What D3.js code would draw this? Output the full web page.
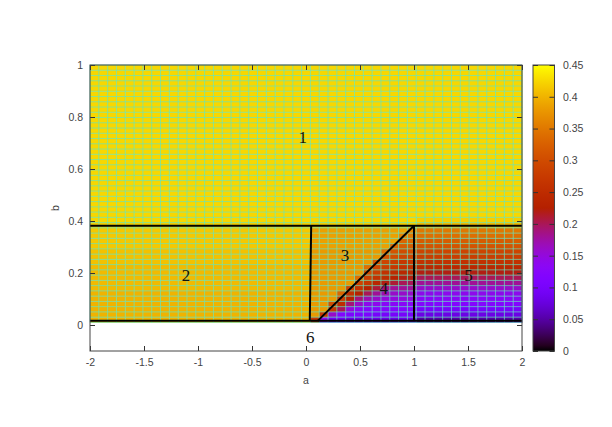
<!DOCTYPE html>
<html><head><meta charset="utf-8">
<script src="https://cdn.jsdelivr.net/npm/d3@7"></script>
<style>body{margin:0;background:#fff}svg{display:block}</style>
</head><body><svg id="chart" width="612" height="427"></svg>
<script>
// ---------- data ----------
const xTicks = [-2, -1.5, -1, -0.5, 0, 0.5, 1, 1.5, 2];
const yTicks = [0, 0.2, 0.4, 0.6, 0.8, 1];
const cbTicks = [0, 0.05, 0.1, 0.15, 0.2, 0.25, 0.3, 0.35, 0.4, 0.45];
const aExtent = [-2, 2];        // heat-map extent in a
const bExtent = [0.01, 1];      // heat-map extent in b
const cbDomain = [0, 0.45];

// symbol -> value of a heat-map cell
const levels = {
  h:0.05, i:0.06, j:0.07, k:0.08, l:0.09, m:0.10, n:0.11, o:0.12, p:0.13, q:0.14,
  r:0.15, s:0.16, t:0.17, u:0.18, v:0.19, w:0.20, x:0.21, y:0.22, z:0.23,
  A:0.24, B:0.25, C:0.26, D:0.27, E:0.28, F:0.29, G:0.30, H:0.31, I:0.32, J:0.33,
  K:0.34, L:0.35, M:0.36, N:0.37, O:0.375, P:0.38, Q:0.385, R:0.39, S:0.395,
  T:0.40, U:0.405, V:0.41, W:0.415, X:0.42, Y:0.425
};

// heat-map cells, top row (b near 1) first; 49 cells per row (a from -2 to 2)
const heatRows = [
  "YYYYYYYYYYYYYYYYYYYYYYYYY"+"YYYYYYYYYYYY"+"YYYYYYYYYYYY",
  "YYYYYYYYYYYYYYYYYYYYYYYYY"+"YYYYYYYYYYYY"+"YYYYYYYYYYYY",
  "YYYYYYYYYYYYYYYYYYYYYYYYY"+"YYYYYYYYYYYY"+"YYYYYYYYYYYY",
  "YYYYYYYYYYYYYYYYYYYYYYYYY"+"YYYYYYYYYYYY"+"YYYYYYYYYYYY",
  "YYYYYYYYYYYYYYYYYYYYYYYYY"+"YYYYYYYYYYYY"+"YYYYYYYYYYYY",
  "YYYYYYYYYYYYYYYYYYYYYYYYY"+"YYYYYYYYYYYY"+"YYYYYYYYYYYY",
  "YYYYYYYYYYYYYYYYYYYYYYYYY"+"YYYYYYYYYYYY"+"YYYYYYYYYYYY",
  "YYYYYYYYYYYYYYYYYYYYYYYYY"+"YYYYYYYYYYYY"+"YYYYYYYYYYYY",
  "YYYYYYYYYYYYYYYYYYYYYYYYY"+"YYYYYYYYYYYY"+"YYYYYYYYYYYY",
  "YYYYYYYYYYYYYYYYYYYYYYYYY"+"YYYYYYYYYYYY"+"YYYYYYYYYYYY",
  "YYYYYYYYYYYYYYYYYYYYYYYYY"+"YYYYYYYYYYYY"+"YYYYYYYYYYYY",
  "YYYYYYYYYYYYYYYYYYYYYYYYY"+"YYYYYYYYYYYY"+"YYYYYYYYYYYY",
  "YYYYYYYYYYYYYYYYYYYYYYYYY"+"YYYYYYYYYYYY"+"YYYYYYYYYYYY",
  "YYYYYYYYYYYYYYYYYYYYYYYYY"+"YYYYYYYYYYYY"+"YYYYYYYYYYYY",
  "YYYYYYYYYYYYYYYYYYYYYYYYY"+"YYYYYYYYYYYY"+"YYYYYYYYYYYY",
  "YYYYYYYYYYYYYYYYYYYYYYYYY"+"YYYYYYYYYYYY"+"YYYYYYYYYYYY",
  "YYYYYYYYYYYYYYYYYYYYYYYYY"+"YYYYYYYYYYYY"+"YYYYYYYYYYYY",
  "YYYYYYYYYYYYYYYYYYYYYYYYY"+"YYYYYYYYYYYY"+"YYYYYYYYYYYY",
  "YYYYYYYYYYYYYYYYYYYYYYYYY"+"YYYYYYYYYYYY"+"YYYYYYYYYYYY",
  "YYYYYYYYYYYYYYYYYYYYYYYYY"+"YYYYYYYYYYYY"+"YYYYYYYYYYYY",
  "YYYYYYYYYYYYYYYYYYYYYYYYY"+"YYYYYYYYYYYY"+"YYYYYYYYYYYY",
  "YYYYYYYYYYYYYYYYYYYYYYYYY"+"YYYYYYYYYYYY"+"YYYYYYYYYYYY",
  "YYYYYYYYYYYYYYYYYYYYYYYYY"+"YYYYYYYYYYYY"+"YYYYYYYYYYYY",
  "YYYYYYYYYYYYYYYYYYYYYYYYY"+"YYYYYYYYYYYY"+"YYYYYYYYYYYY",
  "YYYYYYYYYYYYYYYYYYYYYYYYY"+"YYYYYYYYYYYY"+"YYYYYYYYYYYY",
  "YYYYYYYYYYYYYYYYYYYYYYYYY"+"YYYYYYYYYYYY"+"YYYYYYYYYYYY",
  "YYYYYYYYYYYYYYYYYYYYYYYYY"+"YYYYYYYYYYYY"+"YYYYYYYYYYYY",
  "YYYYYYYYYYYYYYYYYYYYYYYYY"+"YYYYYYYYYYYY"+"YYYYYYYYYYYY",
  "YYYYYYYYYYYYYYYYYYYYYYYYY"+"YYYYYYYYYYYY"+"YYYYYYYYYYYY",
  "YYYYYYYYYYYYYYYYYYYYYYYYY"+"YYYYYYYYYYYY"+"XXXXXXXXXXXX",
  "XXXXXXXXXXXXXXXXXXXXXXXXX"+"XXXXXXXXXXXX"+"UUUUUUUUUUUU",
  "WWWWWWWWWWWWWWWWWWWWWWWWW"+"QQQQQQQQQQQM"+"LLLLLLLLLLLL",
  "WWWWWWWWWWWWWWWWWWWWWWWWW"+"QQQQQQQQQQML"+"KKKKKKKKKKKK",
  "WWWWWWWWWWWWWWWWWWWWWWWWW"+"QQQQQQQQQQJJ"+"IIIIIIIIIIII",
  "WWWWWWWWWWWWWWWWWWWWWWWWW"+"QQQQQQQQQJII"+"HHHHHHHHHHHH",
  "VVVVVVVVVVVVVVVVVVVVVVVVV"+"PPPPPPPPKHGG"+"FFFFFFFFFFFF",
  "VVVVVVVVVVVVVVVVVVVVVVVVV"+"PPPPPPPPHGFF"+"EEEEEEEEEEEE",
  "VVVVVVVVVVVVVVVVVVVVVVVVV"+"PPPPPPPHFEDD"+"CCCCCCCCCCCC",
  "UUUUUUUUUUUUUUUUUUUUUUUUU"+"PPPPPPKFEDCC"+"AAAAAAAAAAAA",
  "UUUUUUUUUUUUUUUUUUUUUUUUU"+"PPPPPPGECBAA"+"yyyyyyyyyyyy",
  "UUUUUUUUUUUUUUUUUUUUUUUUU"+"PPPPPKECBzyy"+"wwwwwwwwwwww",
  "UUUUUUUUUUUUUUUUUUUUUUUUU"+"PPPPPFDAyxww"+"uuuuuuuuuuuu",
  "UUUUUUUUUUUUUUUUUUUUUUUUU"+"PPPPFCzxvuuu"+"ssssssssssss",
  "TTTTTTTTTTTTTTTTTTTTTTTTT"+"PPPJCzwutsss"+"qqqqqqqqqqqq",
  "TTTTTTTTTTTTTTTTTTTTTTTTT"+"PPPEzvtsrrrr"+"pppppppppppp",
  "TTTTTTTTTTTTTTTTTTTTTTTTT"+"PPGBvsqqpppp"+"oooooooooooo",
  "TTTTTTTTTTTTTTTTTTTTTTTTT"+"PPDwrpoooooo"+"mmmmmmmmmmmm",
  "TTTTTTTTTTTTTTTTTTTTTTTTT"+"PDsonnnmmmmm"+"kkkkkkkkkkkk",
  "TTTTTTTTTTTTTTTTTTTTTTTTT"+"Dqllkkkkkkkk"+"hhhhhhhhhhhh"
];

// region boundaries (a1,b1) -> (a2,b2)
const boundaries = [
  {a1:-2,    b1:0.382, a2:2,    b2:0.382},
  {a1:-2,    b1:0.016, a2:2,    b2:0.016},
  {a1:0.048, b1:0.382, a2:0.035,b2:0.016},
  {a1:0.108, b1:0.016, a2:1.0,  b2:0.382},
  {a1:1.0,   b1:0.382, a2:1.0,  b2:0.016}
];

const regionLabels = [
  {text:"1", a:-0.03, b:0.723},
  {text:"2", a:-1.11, b:0.192},
  {text:"3", a:0.36,  b:0.269},
  {text:"4", a:0.72,  b:0.142},
  {text:"5", a:1.505, b:0.192},
  {text:"6", a:0.04,  b:-0.048}
];

// ---------- drawing ----------
const nCols = heatRows[0].length, nRows = heatRows.length;
heatRows.forEach((r,k)=>{ if(r.length!==nCols) throw new Error("row "+k+" has "+r.length); });

const svg = d3.select("#chart");
svg.append("rect").attr("width",612).attr("height",427).attr("fill","#fff");

const x = d3.scaleLinear().domain([-2,2]).range([90,522]);
const y = d3.scaleLinear().domain([-0.1,1]).range([351,65]);
const colEdge = d3.scaleLinear().domain([0,nCols]).range(aExtent);
const rowEdge = d3.scaleLinear().domain([0,nRows]).range([bExtent[1], bExtent[0]]);

function palette(v){
  const t = Math.max(0, Math.min(1, (v-cbDomain[0])/(cbDomain[1]-cbDomain[0])));
  return d3.rgb(255*Math.sqrt(t), 255*t*t*t, 255*Math.max(0, Math.sin(2*Math.PI*t)));
}

const cells = [];
heatRows.forEach((row,k)=>{
  for(let i=0;i<row.length;i++) cells.push({i, k, v: levels[row[i]]});
});

const gHeat = svg.append("g");
gHeat.selectAll("rect").data(cells).join("rect")
  .attr("x", d=>x(colEdge(d.i)))
  .attr("y", d=>y(rowEdge(d.k)))
  .attr("width", d=>x(colEdge(d.i+1))-x(colEdge(d.i))+0.4)
  .attr("height", d=>y(rowEdge(d.k+1))-y(rowEdge(d.k))+0.4)
  .attr("fill", d=>palette(d.v));

// mesh
const gMesh = svg.append("g").attr("stroke","#62e6c0").attr("stroke-width",0.75).attr("stroke-opacity",0.9);
gMesh.selectAll("line.v").data(d3.range(nCols+1)).join("line").attr("class","v")
  .attr("x1", i=>x(colEdge(i))).attr("x2", i=>x(colEdge(i)))
  .attr("y1", y(bExtent[1])).attr("y2", y(bExtent[0]));
gMesh.selectAll("line.h").data(d3.range(nRows+1)).join("line").attr("class","h")
  .attr("y1", k=>y(rowEdge(k))).attr("y2", k=>y(rowEdge(k)))
  .attr("x1", x(aExtent[0])).attr("x2", x(aExtent[1]));

// boundaries
svg.append("g").selectAll("line").data(boundaries).join("line")
  .attr("x1", d=>x(d.a1)).attr("y1", d=>y(d.b1))
  .attr("x2", d=>x(d.a2)).attr("y2", d=>y(d.b2))
  .attr("stroke","#000").attr("stroke-width",2);

// region labels
svg.append("g").selectAll("text").data(regionLabels).join("text")
  .attr("x", d=>x(d.a)).attr("y", d=>y(d.b))
  .attr("text-anchor","middle").attr("dominant-baseline","central")
  .attr("font-family","'Liberation Serif', serif").attr("font-size",17)
  .attr("fill","#111").text(d=>d.text);

// axes
const fmt = d=>String(d);
const tickCol = "#333", labCol = "#444";
function styleAxis(g){
  g.select(".domain").remove();
  g.selectAll(".tick line").attr("stroke",tickCol);
  g.selectAll(".tick text").attr("fill",labCol).attr("font-family","'Liberation Sans', Arial, sans-serif").attr("font-size",10.5);
}
svg.append("g").attr("transform","translate(0,351)")
  .call(d3.axisBottom(x).tickValues(xTicks).tickFormat(fmt).tickSizeInner(-5).tickSizeOuter(0).tickPadding(8)).call(styleAxis);
svg.append("g").attr("transform","translate(0,65)")
  .call(d3.axisTop(x).tickValues(xTicks).tickFormat("").tickSizeInner(-5).tickSizeOuter(0)).call(styleAxis);
svg.append("g").attr("transform","translate(90,0)")
  .call(d3.axisLeft(y).tickValues(yTicks).tickFormat(fmt).tickSizeInner(-5).tickSizeOuter(0).tickPadding(7)).call(styleAxis);
svg.append("g").attr("transform","translate(522,0)")
  .call(d3.axisRight(y).tickValues(yTicks).tickFormat("").tickSizeInner(-5).tickSizeOuter(0)).call(styleAxis);

svg.append("rect").attr("x",90).attr("y",65).attr("width",432).attr("height",286)
  .attr("fill","none").attr("stroke","#444").attr("stroke-width",1);

svg.append("text").attr("x",306).attr("y",384).attr("text-anchor","middle")
  .attr("font-family","'Liberation Sans', Arial, sans-serif").attr("font-size",10.5).attr("fill",labCol).text("a");
svg.append("text").attr("transform","translate(59,208) rotate(-90)").attr("text-anchor","middle")
  .attr("font-family","'Liberation Sans', Arial, sans-serif").attr("font-size",10.5).attr("fill",labCol).text("b");

// colour bar
const cb = d3.scaleLinear().domain(cbDomain).range([351,65]);
const defs = svg.append("defs");
const grad = defs.append("linearGradient").attr("id","cbgrad").attr("x1",0).attr("y1",1).attr("x2",0).attr("y2",0);
grad.selectAll("stop").data(d3.range(0,1.0001,0.02)).join("stop")
  .attr("offset", t=>t).attr("stop-color", t=>palette(cbDomain[0]+t*(cbDomain[1]-cbDomain[0])));
svg.append("rect").attr("x",533).attr("y",65).attr("width",21.5).attr("height",286)
  .attr("fill","url(#cbgrad)").attr("stroke","#444").attr("stroke-width",1);
const cbFmt = d=>String(+d.toFixed(2));
svg.append("g").attr("transform","translate(554.5,0)")
  .call(d3.axisRight(cb).tickValues(cbTicks).tickFormat(cbFmt).tickSizeInner(-5).tickSizeOuter(0).tickPadding(8.5)).call(styleAxis);
svg.append("g").attr("transform","translate(533,0)")
  .call(d3.axisLeft(cb).tickValues(cbTicks).tickFormat("").tickSizeInner(-5).tickSizeOuter(0)).call(styleAxis);
</script>
</body></html>
